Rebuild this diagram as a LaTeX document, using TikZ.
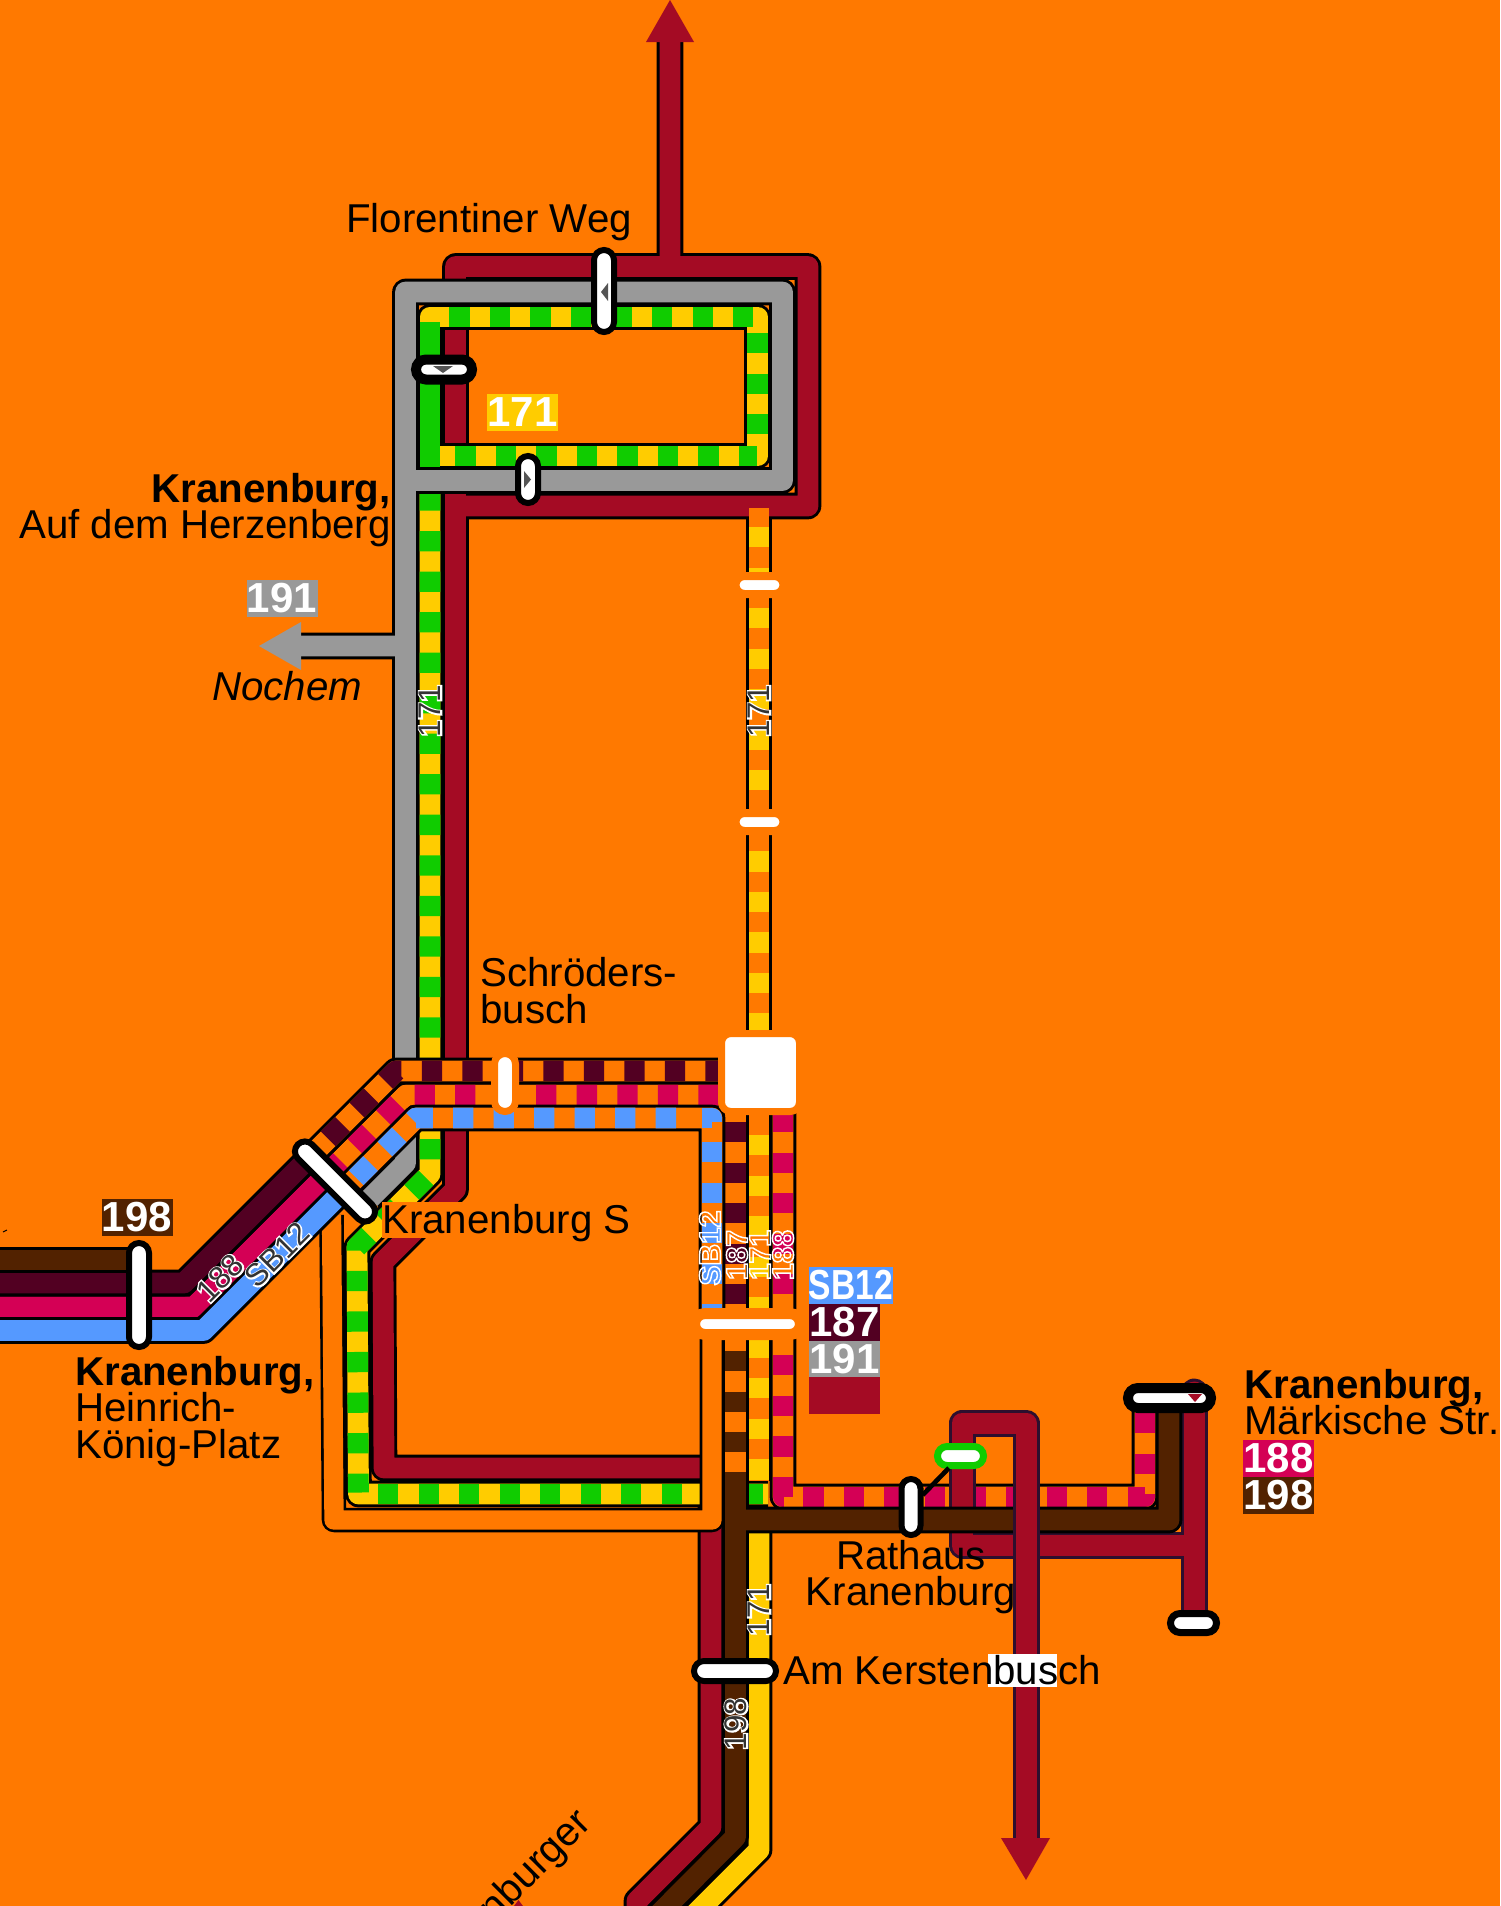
\documentclass[tikz,border=0pt]{standalone}
\usepackage{graphicx}
\usepackage{fontspec}
\setmainfont{Liberation Sans}
\definecolor{bg}{HTML}{FF7900}
\definecolor{lred}{HTML}{A40B24}
\definecolor{lgray}{HTML}{999999}
\definecolor{lgreen}{HTML}{10CC00}
\definecolor{lyel}{HTML}{FFCC00}
\definecolor{lpur}{HTML}{520022}
\definecolor{lmag}{HTML}{D40055}
\definecolor{lblue}{HTML}{5599FF}
\definecolor{lbrown}{HTML}{522200}
\definecolor{dcas}{HTML}{2D0F2E}
\definecolor{tri}{HTML}{555555}
\definecolor{core}{HTML}{333333}
\tikzset{
 cas/.style={draw=black,line width=20pt,line join=round},
 fil/.style={line width=15.6pt,line join=round},
 dsh/.style={line width=15.6pt,line join=round,dash pattern=on 15.2pt off 15.2pt},
 casr/.style={draw=dcas,line width=20.25pt,line join=round},
 filr/.style={draw=lred,line width=15.75pt,line join=round},
 txt/.style={inner sep=0pt,font=\fontsize{30.2}{36}\selectfont,text=black},
 lbox/.style={fill=#1,text=white,inner sep=0pt,font=\fontsize{31.5}{32}\bfseries\selectfont,minimum width=53.25pt,minimum height=27.75pt},
 small/.style={inner sep=0pt,font=\fontsize{23.5}{24}\selectfont,rotate=90},
 smallb/.style={inner sep=0pt,font=\fontsize{22.5}{24}\bfseries\selectfont,rotate=90},
 stopbox/.style={rectangle,fill=white,inner sep=0pt,outer sep=0pt},
}
% route with casing
\newcommand\rt[2]{\draw[cas]#2;\draw[fil,draw=#1]#2;}
% stop: name,x,y,outer long,outer thick,stroke width,rotation,stroke colour
\newcommand\stopn[8]{\node[stopbox,draw=#8,line width={#6*0.75pt},minimum width={(#4-#6)*0.75pt},minimum height={(#5-#6)*0.75pt},rounded corners={(#5-#6)*0.375pt},rotate=#7] (#1) at (#2,#3) {};}
\newcommand\strk[1]{\special{pdf:code q 1 Tr 1 1 1 RG 1.1 w}#1\special{pdf:code Q}}
\newcommand\hcore[1]{\rlap{\special{pdf:code q 1 Tr 1 1 1 RG 2.2 w}#1\special{pdf:code Q}}\textcolor{core}{#1}}
\begin{document}
\begin{tikzpicture}[x=0.75pt,y=-0.75pt]
\useasboundingbox (0,0) rectangle (1500,1906);
\fill[bg] (0,0) rectangle (1500,1906);
\begin{scope}
\clip (0,0) rectangle (1500,1906);
% --- main dark red route
\rt{lred}{(637,1925)--(637,1901)--(711,1827)--(711,1468)--(384,1468)--(383,1262)--(455.5,1189.5)--(455.5,266.5)--(808,266.5)--(808,506)--(455.5,506) (670,42)--(670,266.5)}
\fill[lred] (646,42)--(670,0)--(694,42)--cycle;
% --- lower 171
\rt{lyel}{(430,475)--(430,1174)--(357,1247)--(358.5,1494)--(768,1494)}
\draw[dsh,draw=lgreen] (430,490.47)--(430,1174)--(357,1247)--(358.4,1492.5);
\draw[dsh,draw=lgreen] (378,1494)--(768,1494);
% --- gray route
\rt{lgray}{(370,1198.5)--(405.5,1163)--(405.5,292)--(782.5,292)--(782.5,480.5)--(405.5,480.5) (405.5,646)--(301,646)}
\fill[lgray] (301,622)--(259,646)--(301,670)--cycle;
% --- upper 171 loop
\rt{lyel}{(430,467)--(430,317)--(757.5,317)--(757.5,456)--(440,456)}
\draw[fil,draw=lgreen,line width=15pt] (430,322)--(430,467);
\draw[dsh,draw=lgreen] (449.3,317)--(752.9,317);
\draw[dsh,draw=lgreen] (757.5,333)--(757.5,434.3);
\draw[dsh,draw=lgreen,dash phase=1.7pt] (757,456)--(441,456);
% --- hidden orange band
\draw[black,line width=18.4pt,line join=round] (331.5,1215)--(334,1520)--(712,1520)--(712,1125);
\draw[fil,draw=bg,line width=14.5pt] (331.5,1215)--(334,1520)--(712,1520)--(712,1125);
% --- 188 magenta
\draw[cas] (0,1307)--(194,1307)--(406,1095)--(783,1095)--(783,1497)--(1145,1497)--(1145,1400);
\draw[fil,draw=lmag] (0,1307)--(194,1307)--(327,1174);
\draw[fil,draw=bg] (327,1174)--(406,1095)--(783,1095)--(783,1497)--(1145,1497)--(1145,1400);
\draw[dsh,draw=lmag] (718.6,1095)--(406,1095)--(327,1174);
\draw[dsh,draw=lmag] (783,1112)--(783,1497)--(1145,1497)--(1145,1400);
% --- 187 purple
\draw[cas] (0,1283)--(184,1283)--(396,1071)--(725,1071);
\draw[fil,draw=lpur] (0,1283)--(184,1283)--(308,1159);
\draw[fil,draw=bg] (308,1159)--(396,1071)--(725,1071);
\draw[dsh,draw=lpur] (725.75,1071)--(396,1071)--(308,1159);
\rt{bg}{(735.5,1100)--(735.5,1315)}
\draw[dsh,draw=lpur] (735.5,1122)--(735.5,1315);
% --- 198 brown stub (west)
\rt{lbrown}{(0,1260)--(139,1260)}
% --- SB12 blue
\draw[cas] (0,1330.5)--(203.5,1330.5)--(416,1118)--(712,1118)--(712,1310);
\draw[fil,draw=lblue] (0,1330.5)--(203.5,1330.5)--(344,1190);
\draw[fil,draw=bg] (344,1190)--(416,1118)--(712,1118)--(712,1310);
\draw[dsh,draw=lblue] (676,1118)--(416,1118)--(344,1190);
\draw[fil,draw=lblue] (702,1118)--(712,1118)--(712,1122);
\draw[dsh,draw=lblue] (712,1142)--(712,1310);
% --- 171 upper vertical
\draw[cas] (759,518)--(759,1481);
\draw[fil,draw=bg] (759,508)--(759,1481);
\draw[dsh,draw=lyel] (759,527)--(759,1481);
% --- dark red loop on the right
\draw[casr,line cap=round] (1194,1392)--(1194,1615);
\draw[casr] (1194,1545)--(962,1545)--(962,1423)--(1026,1423)--(1026,1838);
\draw[filr,line cap=round] (1194,1392)--(1194,1615);
\draw[filr] (1194,1545)--(962,1545)--(962,1423)--(1026,1423)--(1026,1838);
\fill[lred] (1001,1838)--(1026,1880)--(1050,1838)--cycle;
% --- yellow lower
\rt{lyel}{(759,1525)--(759,1850)--(695,1914)--(695,1930)}
% --- brown
\rt{bg}{(735.5,1338)--(735.5,1472)}
\draw[dsh,draw=lbrown] (735.5,1351)--(735.5,1472);
\rt{lbrown}{(735.5,1472)--(735.5,1837)--(660,1913)--(660,1930) (735.5,1520)--(1169,1520)--(1169,1395)}
% --- dark red patch over brown
\draw[casr] (1026,1477)--(1026,1561);
\draw[filr] (1026,1477)--(1026,1561);
% --- orange-halo stops
\stopn{opa}{759.5}{585}{56}{26}{8}{0}{bg}
\stopn{opb}{759.5}{822}{56}{26}{8}{0}{bg}
\node[stopbox,draw=bg,line width=5.25pt,minimum width=58.5pt,minimum height=58.5pt,rounded corners=7pt] (sqr) at (760.5,1072.5) {};
\stopn{barn}{747.5}{1324}{117}{32}{11}{0}{bg}
\stopn{schr}{505}{1082.5}{65}{28}{7}{90}{bg}
% --- black stops
\stopn{flor}{604}{291}{88}{26}{6}{90}{black}
\stopn{hza}{444}{369.5}{66}{30}{10}{0}{black}
\stopn{hzb}{528}{479.5}{53}{26}{6}{90}{black}
\stopn{hein}{139}{1295}{110}{26}{6}{90}{black}
\stopn{krs}{335}{1181.5}{111}{26}{6}{-45}{black}
\stopn{rath}{911}{1507}{62}{25}{6}{90}{black}
\stopn{rathb}{960.5}{1456}{53}{26}{7}{0}{lgreen}
\stopn{mark}{1169.5}{1398}{93}{30}{10}{0}{black}
\stopn{markb}{1193.5}{1623}{53}{26}{7}{0}{black}
\stopn{kers}{735}{1671}{88}{26}{6}{0}{black}
\draw[black,line width=3.5pt,shorten <=2.6pt,shorten >=2.25pt] (rathb)--(rath);
% --- direction triangles
\fill[tri] (601,292)--(608,283)--(608,301)--cycle;
\fill[tri] (433,366)--(453,366)--(443,373)--cycle;
\fill[tri] (531,479.5)--(524,471)--(524,488)--cycle;
\fill[lred] (1188,1394)--(1202,1394)--(1195,1402)--cycle;
% --- small bits
\fill[lred] (514,1906)--(518.5,1900)--(523,1906)--cycle;
\draw[black,line width=0.8pt] (3,1232)--(7,1230);
% --- labels
\node[txt,anchor=base west] (lflor) at (346,232) {Florentiner Weg};
\node[txt,anchor=base east,font=\fontsize{30.2}{36}\bfseries\selectfont] (lhza) at (391,502) {Kranenburg,};
\node[txt,anchor=base east] (lhzb) at (391,538) {Auf dem Herzenberg};
\node[txt,anchor=base west,font=\fontsize{30.2}{36}\itshape\selectfont] (lnoc) at (212,700) {Nochem};
\node[txt,anchor=base west] (lsa) at (480,986) {Schröders-};
\node[txt,anchor=base west] (lsb) at (480,1023) {busch};
\node[txt,anchor=base west,fill=bg,text height=23.25pt,text depth=3.75pt] (lkrs) at (382,1233) {Kranenburg S};
\node[txt,anchor=base west,font=\fontsize{30.2}{36}\bfseries\selectfont] (lha) at (75,1385) {Kranenburg,};
\node[txt,anchor=base west] (lhb) at (75,1421) {Heinrich-};
\node[txt,anchor=base west] (lhc) at (75,1458) {König-Platz};
\node[txt,anchor=base] (lra) at (911,1569) {Rathaus};
\node[txt,anchor=base] (lrb) at (911,1605) {Kranenburg};
\fill[white] (988,1654) rectangle (1057,1687);
\node[txt,anchor=base west] (lker) at (783,1684) {Am Kerstenbusch};
\node[txt,anchor=base west,font=\fontsize{30.2}{36}\bfseries\selectfont] (lma) at (1244,1398) {Kranenburg,};
\node[txt,anchor=base west] (lmb) at (1244,1434) {Märkische Str.};
\node[txt,anchor=base east,rotate=45] (lnb) at (593,1825) {nburger};
% --- line boxes
\node[lbox=lyel] (b171) at (522.5,412.5) {171};
\node[lbox=lgray] (b191) at (282,598) {191};
\node[lbox=lbrown] (b198a) at (137,1217.5) {198};
\node[lbox=lblue,minimum width=63pt] (bsb) at (851,1285.5) {\scalebox{0.8}[1]{SB12}};
\node[lbox=lpur] (b187) at (844.5,1322.5) {187};
\node[lbox=lgray] (b191b) at (844.5,1359) {191};
\node[lbox=lred] (bred) at (844.5,1395.5) {};
\node[lbox=lmag] (b188) at (1278.5,1458) {188};
\node[lbox=lbrown] (b198b) at (1278.5,1495) {198};
% --- route numbers on the lines
\node[small] (n1) at (430,711) {\hcore{171}};
\node[small] (n2) at (759,711) {\hcore{171}};
\node[small] (n3) at (759,1610) {\hcore{171}};
\node[small] (n4) at (736,1724) {\hcore{198}};
\node[small,rotate=-45] (n5) at (220,1278) {\hcore{188}};
\node[small,rotate=-45] (n6) at (277,1255) {\hcore{SB12}};
\node[smallb] (n7) at (710,1248) {\strk{SB12}};
\node[smallb] (n8) at (737,1255) {\strk{187}};
\node[smallb] (n9) at (760,1255) {\strk{171}};
\node[smallb] (n10) at (783,1255) {\strk{188}};
\end{scope}
\end{tikzpicture}
\end{document}
